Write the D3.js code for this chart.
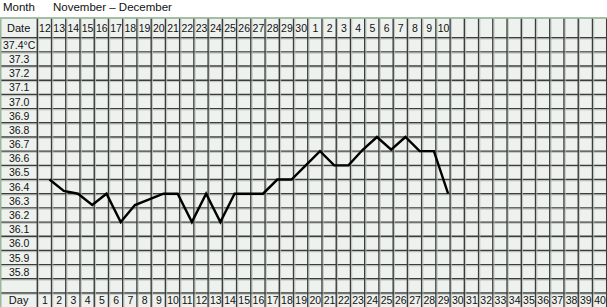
<!DOCTYPE html>
<html>
<head>
<meta charset="utf-8">
<script src="https://cdn.jsdelivr.net/npm/d3@7"></script>
<style>
  html, body { margin: 0; padding: 0; background: #ffffff; }
  svg { display: block; font-family: "Liberation Sans", Arial, Helvetica, sans-serif; }
</style>
</head>
<body>
<svg id="chart" width="607" height="307"></svg>
<script>
// ---- data ----
const monthLabel = "Month";
const monthValue = "November \u2013 December";
const dateLabels = ["12","13","14","15","16","17","18","19","20","21","22","23","24","25","26","27","28","29","30",
                    "1","2","3","4","5","6","7","8","9","10","","","","","","","","","","",""];
const dayLabels = ["1","2","3","4","5","6","7","8","9","10","11","12","13","14","15","16","17","18","19","20",
                   "21","22","23","24","25","26","27","28","29","30","31","32","33","34","35","36","37","38","39","40"];
const tempLabels = ["37.4\u00B0C","37.3","37.2","37.1","37.0","36.9","36.8","36.7","36.6","36.5",
                    "36.4","36.3","36.2","36.1","36.0","35.9","35.8",""];
const tempValues = [37.4,37.3,37.2,37.1,37.0,36.9,36.8,36.7,36.6,36.5,36.4,36.3,36.2,36.1,36.0,35.9,35.8];
const days = [1,2,3,4,5,6,7,8,9,10,11,12,13,14,15,16,17,18,19,20,21,22,23,24,25,26,27,28,29];
const temps = [36.45,36.37,36.35,36.27,36.35,36.15,36.27,36.31,36.35,36.35,36.15,36.35,36.15,36.35,36.35,
               36.35,36.45,36.45,36.55,36.65,36.55,36.55,36.66,36.75,36.66,36.75,36.65,36.65,36.35];

// ---- layout ----
const W = 607, H = 307;
const tableTop = 18, headerBottom = 37.7, bodyBottom = 293, tableBottom = 307;
const labelLeft = 0, gridLeft = 37.3, gridRight = 606.7;

const svg = d3.select("#chart");

const x = d3.scaleBand().domain(dayLabels).range([gridLeft, gridRight]).padding(0);
const rows = d3.scaleBand().domain(d3.range(tempLabels.length)).range([headerBottom, bodyBottom]).padding(0);
const rh = rows.bandwidth();
const y = d3.scaleLinear().domain([37.4, 35.8]).range([headerBottom + rh / 2, headerBottom + 16.5 * rh]);
const bw = x.bandwidth();
const xp = d3.scaleLinear().domain([1, 40]).range([x("1") + bw - 2, x("40") + bw - 2]);

// title
svg.append("text").attr("x", 3).attr("y", 11).attr("font-size", 11.5).attr("fill", "#111").text(monthLabel);
svg.append("text").attr("x", 53).attr("y", 11).attr("font-size", 11.5).attr("fill", "#111").text(monthValue);

// table background
svg.append("rect").attr("x", 0.5).attr("y", tableTop).attr("width", W - 1).attr("height", tableBottom - tableTop + 2)
  .attr("fill", "#eef2ee").attr("stroke", "#9db79d").attr("stroke-width", 1.2);

const grid = svg.append("g");
// horizontal lines
const hLines = [headerBottom].concat(d3.range(1, tempLabels.length + 1).map(i => headerBottom + i * rh));
grid.selectAll("line.h").data(hLines).join("line")
  .attr("x1", 0.5).attr("x2", W - 0.5).attr("y1", d => d).attr("y2", d => d)
  .attr("stroke", "#3a3d3a").attr("stroke-width", 1.4);
grid.selectAll("line.hs").data(hLines).join("line")
  .attr("x1", 0.5).attr("x2", W - 0.5).attr("y1", d => d + 1.3).attr("y2", d => d + 1.3)
  .attr("stroke", "#b8bcb8").attr("stroke-width", 0.8);
// vertical lines
const vLines = dayLabels.map(d => x(d)).concat([gridRight]);
grid.selectAll("line.v").data(vLines).join("line")
  .attr("y1", tableTop).attr("y2", tableBottom).attr("x1", d => d).attr("x2", d => d)
  .attr("stroke", "#3a3d3a").attr("stroke-width", 1.4);
grid.selectAll("line.vs").data(vLines).join("line")
  .attr("y1", tableTop).attr("y2", tableBottom).attr("x1", d => d + 1.3).attr("x2", d => d + 1.3)
  .attr("stroke", "#b8bcb8").attr("stroke-width", 0.8);
// top border
svg.append("line").attr("x1", 0).attr("x2", W).attr("y1", tableTop).attr("y2", tableTop)
  .attr("stroke", "#9db79d").attr("stroke-width", 1.5);
svg.append("line").attr("x1", 0.7).attr("x2", 0.7).attr("y1", tableTop).attr("y2", H)
  .attr("stroke", "#9db79d").attr("stroke-width", 1.5);

// header row
const hdrY = (tableTop + headerBottom) / 2 + 4;
svg.append("text").attr("x", gridLeft / 2).attr("y", hdrY).attr("text-anchor", "middle")
  .attr("font-size", 11).attr("fill", "#111").text("Date");
svg.append("g").selectAll("text").data(dayLabels).join("text")
  .attr("x", d => x(d) + bw / 2 + 0.5).attr("y", hdrY).attr("text-anchor", "middle")
  .attr("font-size", 10.5).attr("fill", "#111").text((d, i) => dateLabels[i]);

// temperature labels
svg.append("g").selectAll("text").data(tempLabels).join("text")
  .attr("x", gridLeft / 2 + 0.5).attr("y", (d, i) => rows(i) + rh / 2 + 4).attr("text-anchor", "middle")
  .attr("font-size", 10.5).attr("fill", "#111").text(d => d);

// day row
const dayY = (bodyBottom + tableBottom) / 2 + 4;
svg.append("text").attr("x", gridLeft / 2).attr("y", dayY).attr("text-anchor", "middle")
  .attr("font-size", 11).attr("fill", "#111").text("Day");
svg.append("g").selectAll("text").data(dayLabels).join("text")
  .attr("x", d => x(d) + bw / 2 + 0.5).attr("y", dayY).attr("text-anchor", "middle")
  .attr("font-size", 10.5).attr("fill", "#111").text(d => d);

// temperature line
const line = d3.line().x((d, i) => xp(days[i])).y(d => y(d));
svg.append("path").datum(temps).attr("d", line)
  .attr("fill", "none").attr("stroke", "#000").attr("stroke-width", 2.4)
  .attr("stroke-linejoin", "miter").attr("stroke-linecap", "butt");
</script>
</body>
</html>
